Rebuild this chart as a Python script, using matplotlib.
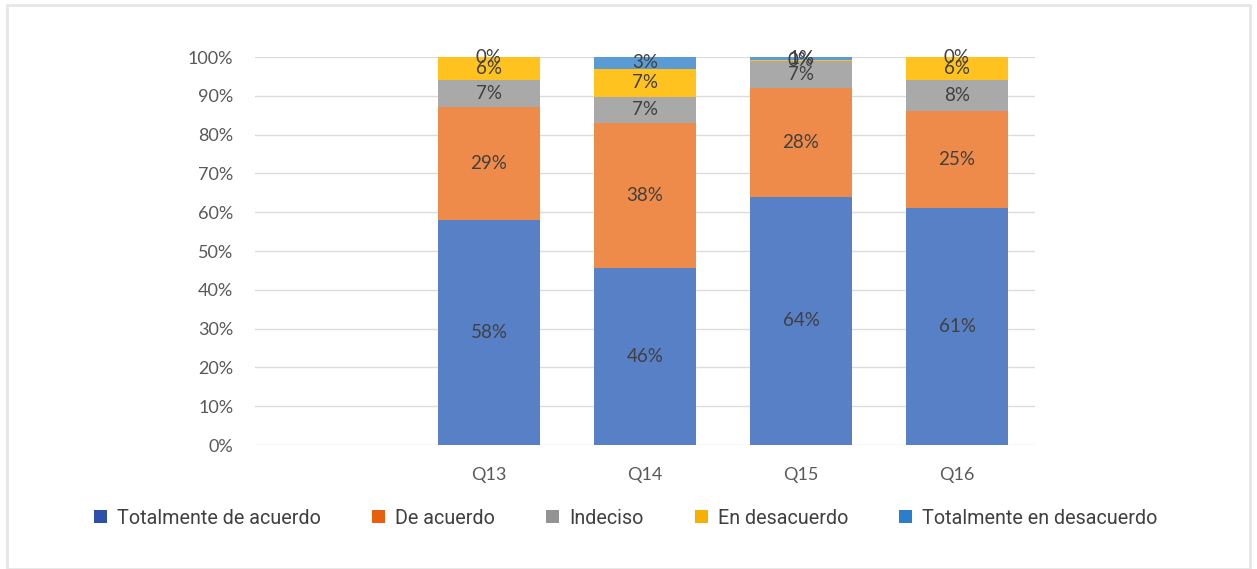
import matplotlib.pyplot as plt
import numpy as np
from matplotlib.patches import Rectangle, Patch
from matplotlib.ticker import PercentFormatter

categories = ['Q13', 'Q14', 'Q15', 'Q16']
series = ['Totalmente de acuerdo', 'De acuerdo', 'Indeciso',
          'En desacuerdo', 'Totalmente en desacuerdo']

tot_acuerdo = [58, 45.5, 64, 61]
de_acuerdo = [29, 37.5, 28, 25]
indeciso = [7, 6.7, 7, 8]
en_desacuerdo = [6, 7.3, 0.3, 6]
tot_desacuerdo = [0, 3, 0.7, 0]

values = [tot_acuerdo, de_acuerdo, indeciso, en_desacuerdo, tot_desacuerdo]
bar_colors = ['#5880C7', '#EE8B4A', '#A9A9A9', '#FFC21E', '#5B9BD5']
legend_colors = ['#2E50A8', '#E8600E', '#939393', '#F7B000', '#2A7ECB']

fig = plt.figure(figsize=(12.57, 5.69), dpi=100)
ax = fig.add_axes([255 / 1257, 1 - 445 / 569, 780 / 1257, 388 / 569])

x = np.arange(len(categories))
bottom = np.zeros(len(categories))
for vals, col in zip(values, bar_colors):
    vals = np.array(vals, dtype=float)
    ax.bar(x, vals, 0.66, bottom=bottom, color=col, zorder=2)
    for xi, b, v in zip(x, bottom, vals):
        ax.text(xi, b + v / 2, '{:.0f}%'.format(v), ha='center', va='center',
                fontsize=13.5, color='#404040', family='Lato', zorder=3)
    bottom += vals

ax.set_xlim(-1.5, 3.5)
ax.set_ylim(0, 100)
ax.set_yticks(np.arange(0, 101, 10))
ax.yaxis.set_major_formatter(PercentFormatter(decimals=0))
ax.set_xticks(x)
ax.set_xticklabels(categories)
ax.grid(axis='y', color='#DCDCDC', linewidth=1, zorder=0)
for s in ax.spines.values():
    s.set_visible(False)
ax.tick_params(length=0, labelsize=13, labelcolor='#595959')
ax.tick_params(axis='x', pad=16)
ax.tick_params(axis='y', pad=15.5)
for lab in ax.get_xticklabels() + ax.get_yticklabels():
    lab.set_family('Lato')

handles = [Patch(facecolor=c, edgecolor='none') for c in legend_colors]
leg = fig.legend(handles, series, loc='center',
                 bbox_to_anchor=(626 / 1257, 1 - 518 / 569),
                 ncol=5, frameon=False, handlelength=0.66, handleheight=0.66,
                 handletextpad=0.5, columnspacing=2.6,
                 prop={'family': 'Roboto', 'size': 14.2})
for t in leg.get_texts():
    t.set_color('#404040')

# thin frame around the picture
fig.patches.append(Rectangle((7 / 1257, 0), 1243 / 1257, 1 - 5 / 569,
                             transform=fig.transFigure, fill=False,
                             edgecolor='#E6E6E6', linewidth=2))

fig.savefig('out.png', dpi=100)
